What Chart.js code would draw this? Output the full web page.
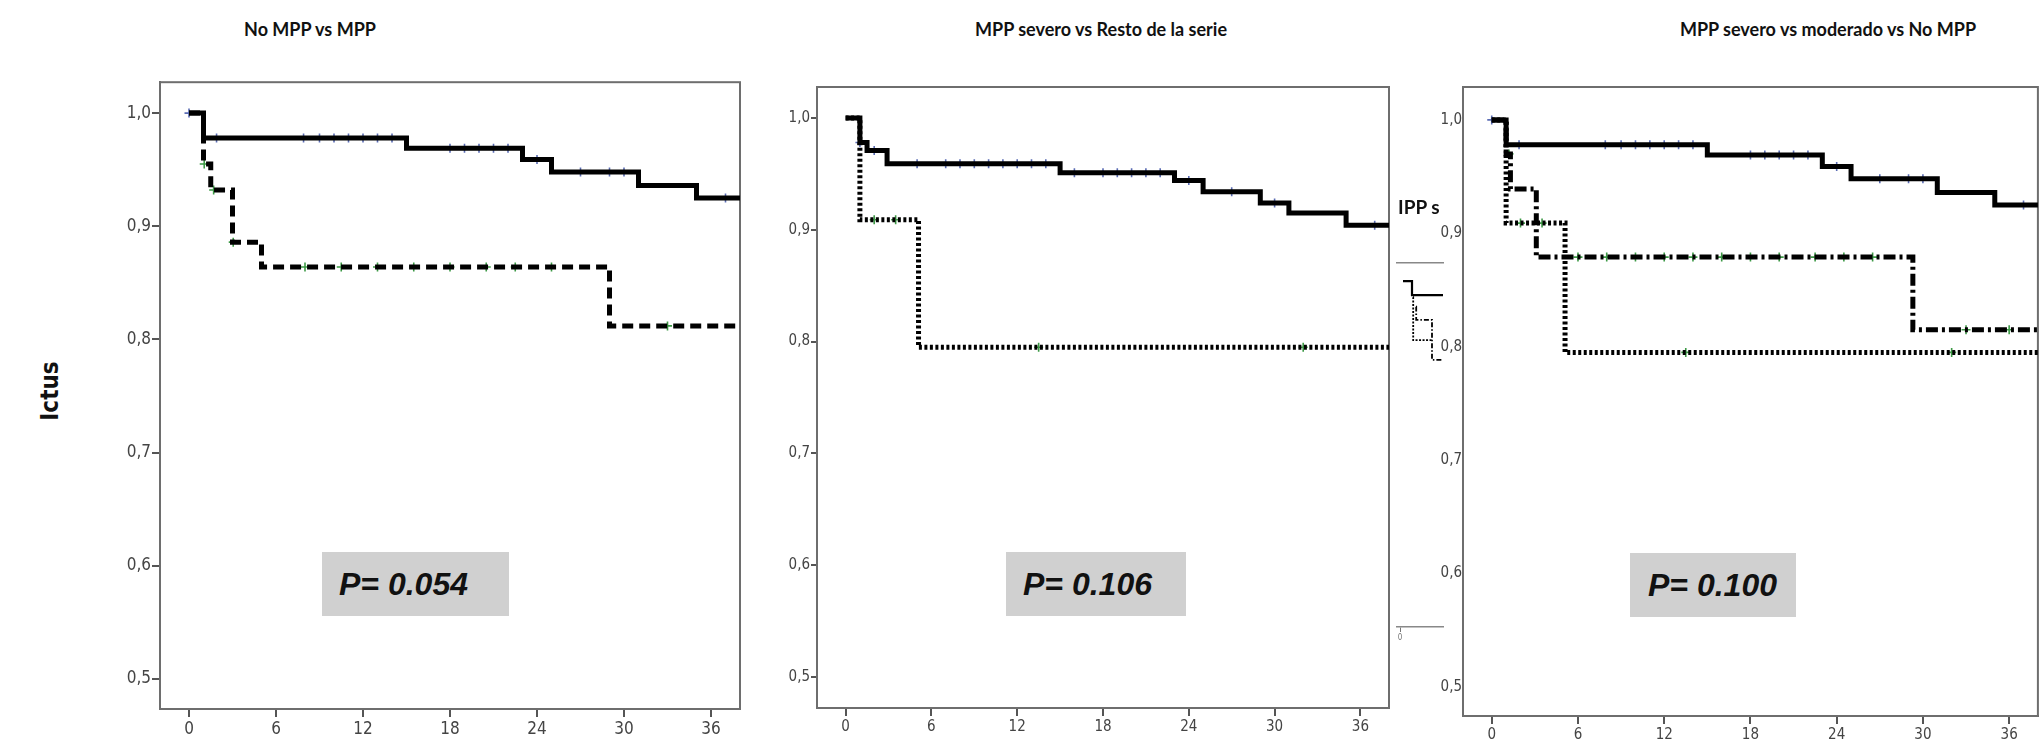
<!DOCTYPE html>
<html>
<head>
<meta charset="utf-8">
<script src="https://cdn.jsdelivr.net/npm/chart.js@4.4.1/dist/chart.umd.min.js"></script>
<style>
  html, body { margin: 0; padding: 0; background: #fff; }
  body { width: 2044px; height: 746px; position: relative; overflow: hidden;
         font-family: 'Liberation Sans Narrow', 'DejaVu Sans Condensed', 'Liberation Sans', sans-serif; }
  canvas { position: absolute; }
  .title { position: absolute; top: 14px; font: bold 18px/30px Lato, 'Liberation Sans', sans-serif; color: #111;
           white-space: nowrap; transform: translateX(-50%); }
  .ylab { position: absolute; left: 50px; top: 391px; font-size: 24px; font-weight: bold; color: #111;
          transform: translate(-50%, -50%) rotate(-90deg); white-space: nowrap; }
  .pbox { position: absolute; height: 64px; background: #d0d0d0; }
  .pbox span { position: absolute; top: 0; font: italic bold 32px/64px 'Liberation Sans', sans-serif; color: #111; white-space: nowrap; }
  .frag { position: absolute; left: 1398px; top: 194px; font: bold 19px/26px Lato, sans-serif; color: #111; }
</style>
</head>
<body>
<div class="title" style="left:310px">No MPP vs MPP</div>
<div class="title" style="left:1101px">MPP severo vs Resto de la serie</div>
<div class="title" style="left:1828px">MPP severo vs moderado vs No MPP</div>
<div class="ylab">Ictus</div>

<canvas id="c1" width="630" height="674" style="left:120px; top:71px"></canvas>
<canvas id="c2" width="622" height="667" style="left:777px; top:77px"></canvas>
<canvas id="cm" width="60" height="392" style="left:1390px; top:255px"></canvas>
<canvas id="c3" width="621" height="675" style="left:1423px; top:77px"></canvas>

<div class="frag">IPP s</div>
<div class="pbox" style="left:322px; top:552px; width:187px"><span style="left:17px">P= 0.054</span></div>
<div class="pbox" style="left:1006px; top:552px; width:180px"><span style="left:17px">P= 0.106</span></div>
<div class="pbox" style="left:1630px; top:553px; width:166px"><span style="left:18px">P= 0.100</span></div>

<script>
// ---- ticks ----
const xTicks = [0, 6, 12, 18, 24, 30, 36];
const yTicks = [0.5, 0.6, 0.7, 0.8, 0.9, 1.0];

// ---- survival curves (time in months, cumulative survival) ----
// No MPP (used in panels 1 and 3)
const noMppT = [0, 1, 15, 23, 25, 31, 35, 38];
const noMppS = [1.0, 0.978, 0.969, 0.959, 0.948, 0.936, 0.925, 0.925];
const noMppCens = [0, 1.9, 7.9, 9, 10, 11, 12, 13, 14, 18, 19, 20, 21, 22, 24, 27, 29, 30, 37];

// MPP (panel 1)
const mppT = [0, 1, 1.5, 3, 5, 29, 38];
const mppS = [1.0, 0.955, 0.932, 0.886, 0.864, 0.812, 0.812];
const mppCens = [1.05, 1.7, 3.05, 8, 10.5, 13, 15.5, 18, 20.5, 22.5, 25, 33];

// Resto de la serie (panel 2)
const restoT = [0, 1, 1.5, 2.9, 15, 23, 25, 29, 31, 35, 38];
const restoS = [1.0, 0.978, 0.971, 0.959, 0.951, 0.944, 0.934, 0.924, 0.915, 0.904, 0.904];
const restoCens = [1, 2, 5, 7, 8, 9, 10, 11, 12, 13, 14, 16, 18, 19, 20, 21, 22, 24, 27, 30, 37];

// MPP severo (panels 2 and 3)
const severoT = [0, 1, 5.1, 38];
const severoS = [1.0, 0.909, 0.795, 0.795];
const severoCens = [2, 3.5, 13.5, 32];

// MPP moderado (panel 3)
const moderadoT = [0, 1, 1.3, 3.1, 29.3, 38];
const moderadoS = [1.0, 0.97, 0.939, 0.879, 0.815, 0.815];
const moderadoCens = [1.2, 6, 8, 10, 12, 14, 16, 18, 20, 22.5, 24.5, 26.5, 33, 36];

// leftover legend thumbnail between panels 2 and 3
const miniSolidT = [0.75, 3, 10.75];
const miniSolidS = [0.975, 0.956, 0.956];
const miniDotT = [3.25, 3.3, 8.25];
const miniDotS = [0.953, 0.894, 0.894];
const miniDashT = [4, 4.05, 8, 10.5];
const miniDashS = [0.94, 0.922, 0.867, 0.867];

const NARROW = "'Liberation Sans Narrow', 'DejaVu Sans Condensed', 'Liberation Sans', sans-serif";
const BLUE = '#5a6cb4';
const GREEN = '#3d9a46';

Chart.defaults.font.family = NARROW;
Chart.defaults.animation = false;
Chart.defaults.plugins.legend.display = false;
Chart.defaults.plugins.tooltip.enabled = false;

const toPts = (T, S) => T.map((t, i) => ({ x: t, y: S[i] }));
const survAt = (T, S, t) => {
    let v = S[0];
    T.forEach((tt, i) => { if (tt <= t) v = S[i]; });
    return v;
};

const curve = (T, S, dash, w = 5) => ({
    type: 'line', data: toPts(T, S), stepped: true,
    borderColor: '#000', borderWidth: w, borderDash: dash,
    borderCapStyle: 'butt', borderJoinStyle: 'miter',
    pointRadius: 0, fill: false
});
const censors = (T, S, times, color) => ({
    type: 'scatter', data: times.map(t => ({ x: t, y: survAt(T, S, t) })),
    pointStyle: 'cross', pointRadius: 4.5, borderColor: color, borderWidth: 1.6, showLine: false
});

// frame round the plot area
const framePlugin = {
    id: 'frame',
    beforeDatasetsDraw(chart) {
        const { ctx, chartArea: a } = chart;
        ctx.save();
        ctx.strokeStyle = '#6e6e6e';
        ctx.lineWidth = 2;
        ctx.strokeRect(a.left, a.top, a.right - a.left, a.bottom - a.top);
        ctx.restore();
    }
};

function makePanel(id, yMin, yMax, padRight, fontSize, yTickLen, datasets) {
    new Chart(document.getElementById(id), {
        type: 'line',
        data: { datasets },
        options: {
            responsive: false,
            layout: { padding: { top: 10, right: padRight, left: 0, bottom: 0 } },
            scales: {
                x: {
                    type: 'linear', min: -2, max: 38,
                    afterBuildTicks: s => { s.ticks = xTicks.map(v => ({ value: v })); },
                    afterFit: s => { s.height = 36; },
                    grid: { drawOnChartArea: false, drawTicks: true, tickLength: 8, color: '#555', lineWidth: 2 },
                    border: { display: true, color: '#6e6e6e', width: 2 },
                    ticks: { color: '#444', font: { size: fontSize }, padding: 2, maxRotation: 0, autoSkip: false,
                             callback: v => String(v) }
                },
                y: {
                    type: 'linear', min: yMin, max: yMax,
                    afterBuildTicks: s => { s.ticks = yTicks.map(v => ({ value: v })); },
                    afterFit: s => { s.width = 40; },
                    grid: { drawOnChartArea: false, drawTicks: yTickLen > 0, tickLength: yTickLen, color: '#555', lineWidth: 2 },
                    border: { display: true, color: '#6e6e6e', width: 2 },
                    ticks: { color: '#444', font: { size: fontSize }, padding: 1,
                             callback: v => v.toFixed(1).replace('.', ',') }
                }
            }
        },
        plugins: [framePlugin]
    });
}

// Panel 1: No MPP vs MPP
makePanel('c1', 0.4735, 1.0273, 10, 17, 8, [
    curve(mppT, mppS, [11, 6]),
    curve(noMppT, noMppS, []),
    censors(noMppT, noMppS, noMppCens, BLUE),
    censors(mppT, mppS, mppCens, GREEN)
]);

// Panel 2: MPP severo vs Resto de la serie
makePanel('c2', 0.4723, 1.0277, 10, 15, 6, [
    curve(severoT, severoS, [3, 2.5]),
    curve(restoT, restoS, []),
    censors(restoT, restoS, restoCens, BLUE),
    censors(severoT, severoS, severoCens, GREEN)
]);

// Panel 3: MPP severo vs moderado vs No MPP
makePanel('c3', 0.4744, 1.029, 6, 15, 0, [
    curve(severoT, severoS, [3, 2.5]),
    curve(moderadoT, moderadoS, [12, 4, 3, 4]),
    curve(noMppT, noMppS, []),
    censors(noMppT, noMppS, noMppCens, BLUE),
    censors(moderadoT, moderadoS, moderadoCens, GREEN),
    censors(severoT, severoS, severoCens, GREEN)
]);

// cropped thumbnail fragment
new Chart(document.getElementById('cm'), {
    type: 'line',
    data: { datasets: [
        curve(miniSolidT, miniSolidS, [], 2.2),
        curve(miniDotT, miniDotS, [2, 1.5], 1.8),
        curve(miniDashT, miniDashS, [5, 2, 1.5, 2], 1.8)
    ] },
    options: {
        responsive: false,
        layout: { padding: { top: 8, right: 7, left: 7, bottom: 0 } },
        scales: {
            x: {
                type: 'linear', min: -0.75, max: 10.75,
                afterBuildTicks: s => { s.ticks = [{ value: 0 }]; },
                afterFit: s => { s.height = 20; },
                grid: { drawOnChartArea: false, drawTicks: true, tickLength: 5, color: '#777', lineWidth: 1 },
                border: { display: true, color: '#888', width: 1.5 },
                ticks: { color: '#777', font: { size: 8 }, padding: 1, maxRotation: 0 }
            },
            x2: {
                type: 'linear', position: 'top', min: -0.75, max: 10.75,
                afterFit: s => { s.height = 0; },
                grid: { display: false, drawTicks: false },
                border: { display: true, color: '#888', width: 1.5 },
                ticks: { display: false }
            },
            y: { type: 'linear', min: 0.5, max: 1.0, display: false }
        }
    }
});
</script>
</body>
</html>
